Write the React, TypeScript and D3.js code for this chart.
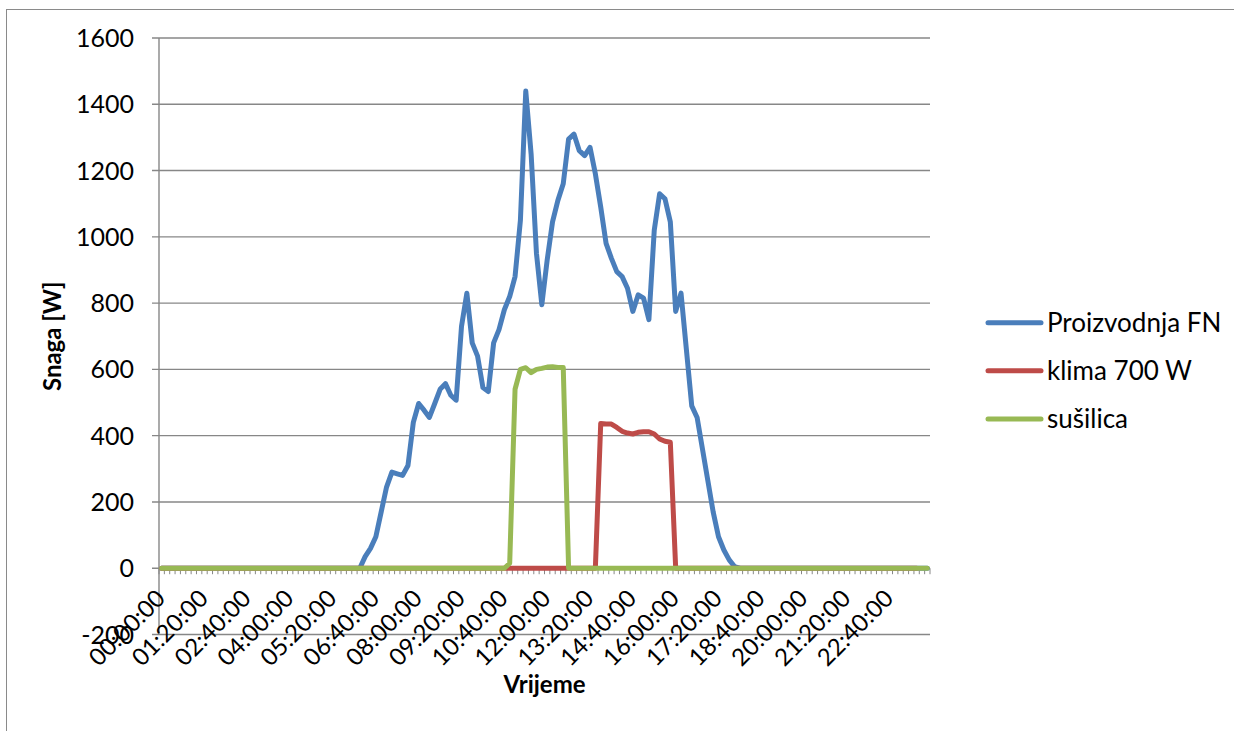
import React from 'react';
import * as d3 from 'd3';

// 10-minute samples, 00:00 .. 23:50
const times: string[] = d3.range(144).map((i) => {
  const h = Math.floor(i / 6);
  const m = (i % 6) * 10;
  return `${String(h).padStart(2, '0')}:${String(m).padStart(2, '0')}:00`;
});

const tickLabels = [
  '00:00:00', '01:20:00', '02:40:00', '04:00:00', '05:20:00', '06:40:00',
  '08:00:00', '09:20:00', '10:40:00', '12:00:00', '13:20:00', '14:40:00',
  '16:00:00', '17:20:00', '18:40:00', '20:00:00', '21:20:00', '22:40:00',
];

const yTicks = [-200, 0, 200, 400, 600, 800, 1000, 1200, 1400, 1600];

const proizvodnja = [
  0, 0, 0, 0, 0, 0, 0, 0, 0, 0, 0, 0, 0, 0, 0, 0, 0, 0, 0, 0, 0, 0, 0, 0,
  0, 0, 0, 0, 0, 0, 0, 0, 0, 0, 0, 0, 0, 0, 35, 60, 95, 170, 245, 290, 285, 280, 310, 440,
  497, 477, 455, 497, 540, 557, 522, 507, 730, 830, 680, 640, 545, 533, 680, 720, 780, 820,
  880, 1050, 1440, 1250, 950, 795, 930, 1045, 1110, 1160, 1295, 1310, 1260, 1245, 1270, 1190,
  1090, 980, 935, 895, 880, 845, 775, 825, 815, 750, 1020, 1130, 1115, 1045, 775, 830, 660, 490,
  455, 360, 265, 170, 95, 55, 25, 5, 0, 0, 0, 0, 0, 0, 0, 0, 0, 0, 0, 0,
  0, 0, 0, 0, 0, 0, 0, 0, 0, 0, 0, 0, 0, 0, 0, 0, 0, 0, 0, 0, 0, 0, 0, 0,
];

const klima = [
  0, 0, 0, 0, 0, 0, 0, 0, 0, 0, 0, 0, 0, 0, 0, 0, 0, 0, 0, 0, 0, 0, 0, 0,
  0, 0, 0, 0, 0, 0, 0, 0, 0, 0, 0, 0, 0, 0, 0, 0, 0, 0, 0, 0, 0, 0, 0, 0,
  0, 0, 0, 0, 0, 0, 0, 0, 0, 0, 0, 0, 0, 0, 0, 0, 0, 0, 0, 0, 0, 0, 0, 0,
  0, 0, 0, 0, 0, 0, 0, 0, 0, 0, 437, 435, 435, 425, 413, 408, 405, 410, 412, 412, 405, 390,
  383, 380, 0, 0, 0, 0, 0, 0, 0, 0, 0, 0, 0, 0, 0, 0, 0, 0, 0, 0, 0, 0, 0, 0,
  0, 0, 0, 0, 0, 0, 0, 0, 0, 0, 0, 0, 0, 0, 0, 0, 0, 0, 0, 0, 0, 0, 0, 0,
];

const susilica = [
  0, 0, 0, 0, 0, 0, 0, 0, 0, 0, 0, 0, 0, 0, 0, 0, 0, 0, 0, 0, 0, 0, 0, 0,
  0, 0, 0, 0, 0, 0, 0, 0, 0, 0, 0, 0, 0, 0, 0, 0, 0, 0, 0, 0, 0, 0, 0, 0,
  0, 0, 0, 0, 0, 0, 0, 0, 0, 0, 0, 0, 0, 0, 0, 0, 0, 15, 540, 600, 605, 590, 600, 603,
  607, 608, 606, 606, 0, 0, 0, 0, 0, 0, 0, 0, 0, 0, 0, 0, 0, 0, 0, 0, 0, 0, 0, 0,
  0, 0, 0, 0, 0, 0, 0, 0, 0, 0, 0, 0, 0, 0, 0, 0, 0, 0, 0, 0, 0, 0, 0, 0,
  0, 0, 0, 0, 0, 0, 0, 0, 0, 0, 0, 0, 0, 0, 0, 0, 0, 0, 0, 0, 0, 0, 0, 0,
];

const series = [
  { name: 'Proizvodnja FN', values: proizvodnja, color: '#4A7EBB' },
  { name: 'klima 700 W', values: klima, color: '#BE4B48' },
  { name: 'sušilica', values: susilica, color: '#98B954' },
];

const FONT = 'Lato, "Liberation Sans", sans-serif';
const GRID = '#878787';

const plot = { left: 159, right: 930, top: 38, bottom: 634.5 };

const App: React.FC = () => {
  const x = d3.scaleBand<string>().domain(times).range([plot.left, plot.right]);
  const y = d3.scaleLinear().domain([-200, 1600]).range([plot.bottom, plot.top]);
  const cx = (t: string) => (x(t) as number) + x.bandwidth() / 2;

  const line = d3
    .line<number>()
    .x((_, i) => cx(times[i]))
    .y((d) => y(d));

  const y0 = y(0);
  const legendRows = [322.7, 370.7, 419];

  return (
    <svg
      width={1234}
      height={731}
      style={{ position: 'absolute', left: 0, top: 0, background: '#fff' }}
    >
      <rect x={6.5} y={9.5} width={1260} height={760} fill="#fff" stroke="#8a8a8a" strokeWidth={1} />

      {/* horizontal gridlines */}
      {yTicks.map((t) => (
        <line key={t} x1={plot.left - 7} x2={plot.right} y1={y(t)} y2={y(t)} stroke={GRID} strokeWidth={1.4} />
      ))}
      {yTicks.map((t) => (
        <text
          key={'l' + t}
          x={134}
          y={y(t)}
          dy="0.36em"
          textAnchor="end"
          fontFamily={FONT}
          fontSize={25}
          fill="#000"
        >
          {t}
        </text>
      ))}
      <line x1={plot.left} x2={plot.left} y1={plot.top} y2={plot.bottom} stroke={GRID} strokeWidth={1.4} />

      {/* category ticks on the zero line */}
      {times.concat(['end']).map((t, i) => {
        const xx = i < times.length ? (x(t) as number) : plot.right;
        return <line key={'t' + i} x1={xx} x2={xx} y1={y0} y2={y0 + 6} stroke={GRID} strokeWidth={1} />;
      })}

      {series.map((s) => (
        <path
          key={s.name}
          d={line(s.values) as string}
          fill="none"
          stroke={s.color}
          strokeWidth={5}
          strokeLinejoin="round"
          strokeLinecap="round"
        />
      ))}

      {/* rotated time labels */}
      {tickLabels.map((lab) => {
        const px = cx(lab) + 5;
        const py = 600;
        return (
          <text
            key={lab}
            x={px}
            y={py}
            textAnchor="end"
            transform={`rotate(-45 ${px} ${py})`}
            fontFamily={FONT}
            fontSize={24}
            fill="#000"
          >
            {lab}
          </text>
        );
      })}

      <text
        x={(plot.left + plot.right) / 2}
        y={693}
        textAnchor="middle"
        fontFamily={FONT}
        fontWeight="bold"
        fontSize={24}
      >
        Vrijeme
      </text>
      <text
        transform={`translate(61,${(plot.top + plot.bottom) / 2}) rotate(-90)`}
        textAnchor="middle"
        fontFamily={FONT}
        fontWeight="bold"
        fontSize={24}
      >
        Snaga [W]
      </text>

      {series.map((s, i) => (
        <g key={'lg' + s.name}>
          <line
            x1={988}
            x2={1041}
            y1={legendRows[i]}
            y2={legendRows[i]}
            stroke={s.color}
            strokeWidth={5}
            strokeLinecap="round"
          />
          <text x={1047} y={legendRows[i]} dy="0.36em" fontFamily={FONT} fontSize={26} fill="#000">
            {s.name}
          </text>
        </g>
      ))}
    </svg>
  );
};

export default App;
